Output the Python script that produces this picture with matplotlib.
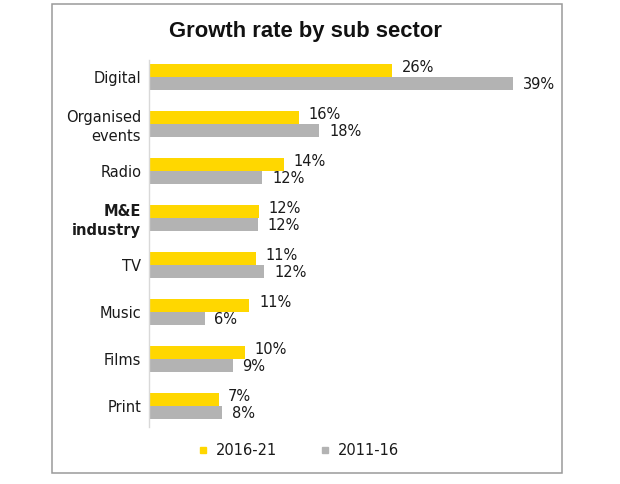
import matplotlib
matplotlib.use("Agg")
import matplotlib.pyplot as plt
from matplotlib.lines import Line2D
from matplotlib.patches import Rectangle

# data (bar lengths as drawn; labels are rounded)
categories = ["Digital", "Organised\nevents", "Radio", "M&E\nindustry", "TV", "Music", "Films", "Print"]
growth_2016_21 = [26, 16, 14.4, 11.7, 11.4, 10.7, 10.2, 7.4]
growth_2011_16 = [39, 18.2, 12.1, 11.6, 12.3, 5.9, 8.9, 7.8]
series_names = ["2016-21", "2011-16"]

YELLOW = "#FFD700"
GREY = "#B3B3B3"
TEXT = "#1a1a1a"

plt.rcParams["font.family"] = ["DejaVu Sans"]

fig = plt.figure(figsize=(6.2, 4.84), dpi=100)
ax = fig.add_axes([0.2411, 0.1178, 0.632, 0.7583])

ypos = list(range(len(categories)))
h = 0.27
y_new = [y - h / 2 for y in ypos]
y_old = [y + h / 2 for y in ypos]

ax.barh(y_new, growth_2016_21, height=h, color=YELLOW, linewidth=0)
ax.barh(y_old, growth_2011_16, height=h, color=GREY, linewidth=0)

for y, v in zip(y_new, growth_2016_21):
    ax.annotate(f"{round(v)}%", (v, y), xytext=(7, 2.5), textcoords="offset points",
                ha="left", va="center", fontsize=10.5, color=TEXT)
for y, v in zip(y_old, growth_2011_16):
    ax.annotate(f"{round(v)}%", (v, y), xytext=(7, -1), textcoords="offset points",
                ha="left", va="center", fontsize=10.5, color=TEXT)

ax.set_xlim(0, 42)
ax.set_ylim(7.45, -0.36)
ax.set_yticks(ypos)
ax.set_yticklabels(categories, fontsize=10.5, color=TEXT, linespacing=1.3)
for lbl in ax.get_yticklabels():
    if lbl.get_text().startswith("M&E"):
        lbl.set_fontweight("bold")
ax.tick_params(axis="y", length=0, pad=6)
ax.set_xticks([])
for side in ["top", "right", "bottom"]:
    ax.spines[side].set_visible(False)
ax.spines["left"].set_color("#D9D9D9")
ax.spines["left"].set_linewidth(1.0)

fig.text(0.4935, 0.923, "Growth rate by sub sector", ha="center", va="baseline",
         fontsize=15.8, fontweight="bold", family="Liberation Sans", color="#111111")

handles = [Line2D([], [], marker="s", linestyle="none", markersize=5, color=YELLOW),
           Line2D([], [], marker="s", linestyle="none", markersize=5, color=GREY)]
fig.legend(handles, series_names, loc="center", bbox_to_anchor=(0.482, 0.07), ncol=2,
           frameon=False, fontsize=10.5, handlelength=0.6, handletextpad=0.6,
           columnspacing=3.0, labelcolor=TEXT)

# outer frame
fig.patches.append(Rectangle((52.5 / 620, 1 - 473.3 / 484), (562.3 - 52.5) / 620,
                             (473.3 - 4.3) / 484, transform=fig.transFigure,
                             fill=False, edgecolor="#9A9A9A", linewidth=1.1))

fig.savefig("out.png", dpi=100)
